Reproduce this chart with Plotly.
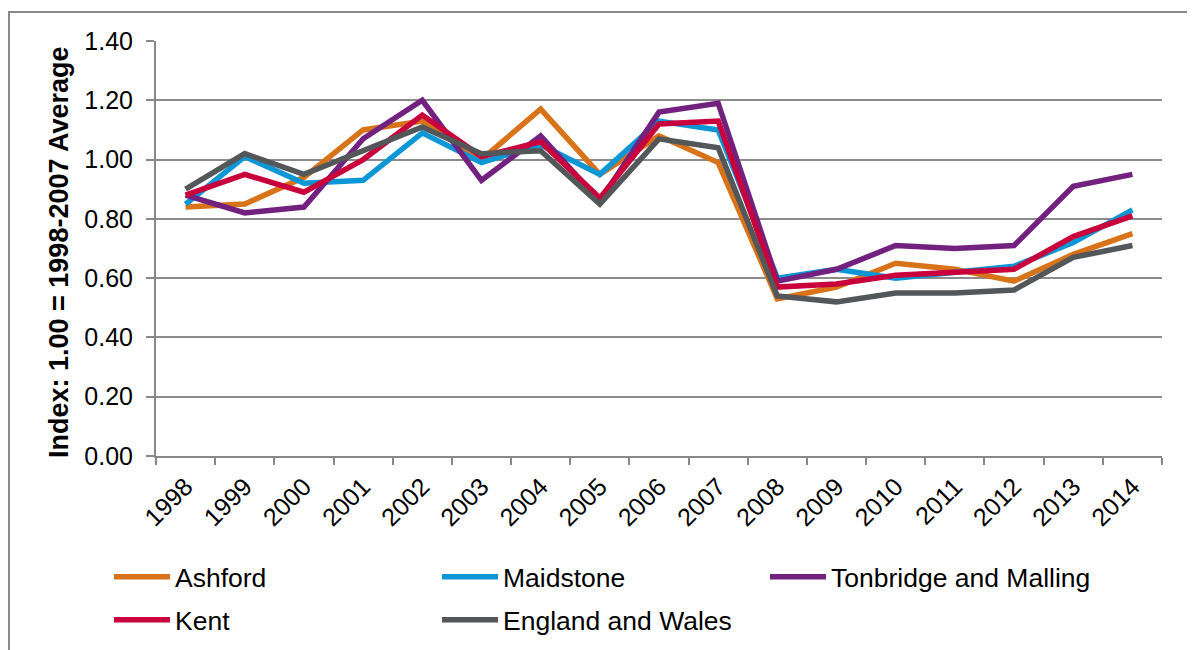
import plotly.graph_objects as go

years = [str(y) for y in range(1998, 2015)]
ashford = [0.84, 0.85, 0.94, 1.10, 1.13, 1.00, 1.17, 0.95, 1.08, 0.99, 0.53, 0.57, 0.65, 0.63, 0.59, 0.68, 0.75]
maidstone = [0.85, 1.01, 0.92, 0.93, 1.09, 0.99, 1.05, 0.95, 1.13, 1.10, 0.60, 0.63, 0.60, 0.62, 0.64, 0.72, 0.83]
tonbridge = [0.88, 0.82, 0.84, 1.07, 1.20, 0.93, 1.08, 0.86, 1.16, 1.19, 0.59, 0.63, 0.71, 0.70, 0.71, 0.91, 0.95]
kent = [0.88, 0.95, 0.89, 1.00, 1.15, 1.01, 1.06, 0.87, 1.12, 1.13, 0.57, 0.58, 0.61, 0.62, 0.63, 0.74, 0.81]
eng_wales = [0.90, 1.02, 0.95, 1.03, 1.11, 1.02, 1.03, 0.85, 1.07, 1.04, 0.54, 0.52, 0.55, 0.55, 0.56, 0.67, 0.71]

y_ticks = [0.0, 0.2, 0.4, 0.6, 0.8, 1.0, 1.2, 1.4]
y_tick_text = ["0.00", "0.20", "0.40", "0.60", "0.80", "1.00", "1.20", "1.40"]

series = [
    ("Ashford", ashford, "#D8731A", "legend"),
    ("Maidstone", maidstone, "#0C96D6", "legend"),
    ("Tonbridge and Malling", tonbridge, "#73217F", "legend"),
    ("Kent", kent, "#C8003C", "legend2"),
    ("England and Wales", eng_wales, "#53575A", "legend2"),
]

FONT = "Arial, Liberation Sans, sans-serif"
OFF = 8  # default page body margin
W, H = 1195 - OFF, 650 - OFF
# plot area in page pixels
L, R, T, B = 156, 1162, 41, 456
pw, ph = R - L, B - T

def px_x(p):
    return (p - L) / pw

def px_y(p):
    return (B - p) / ph

fig = go.Figure()
for name, vals, color, leg in series:
    fig.add_trace(go.Scatter(
        x=years, y=vals, name=name, mode="lines",
        line=dict(color=color, width=5.5),
        legend=leg,
    ))

legend_common = dict(
    orientation="h",
    font=dict(family=FONT, size=26.5, color="#000000"),
    entrywidth=257, entrywidthmode="pixels",
    itemwidth=56,
    bgcolor="rgba(0,0,0,0)",
    xanchor="left", yanchor="middle",
    tracegroupgap=0,
)

fig.update_layout(
    width=W, height=H,
    margin=dict(l=L - OFF, r=(OFF + W) - R, t=T - OFF, b=(OFF + H) - B,
                pad=0, autoexpand=False),
    paper_bgcolor="white", plot_bgcolor="white",
    showlegend=True,
    legend=dict(x=px_x(109), y=px_y(577), **legend_common),
    legend2=dict(x=px_x(109), y=px_y(620), **legend_common),
    xaxis=dict(
        type="category",
        tickmode="array", tickvals=years, ticktext=years,
        tickangle=-45,
        tickfont=dict(family=FONT, size=25, color="#000000"),
        showline=True, linecolor="#888888", linewidth=2,
        ticks="outside", ticklen=7, tickcolor="#888888", tickwidth=2,
        tickson="boundaries",
        ticklabelstandoff=4,
        showgrid=False, zeroline=False,
        range=[-0.5, 16.5],
        automargin=False,
    ),
    yaxis=dict(
        range=[0, 1.4],
        tickmode="array", tickvals=y_ticks, ticktext=y_tick_text,
        tickfont=dict(family=FONT, size=25, color="#000000"),
        showline=True, linecolor="#888888", linewidth=2,
        ticks="outside", ticklen=8, tickcolor="#888888", tickwidth=2,
        ticklabelstandoff=8,
        showgrid=True, gridcolor="#8C8C8C", gridwidth=2,
        zeroline=False,
        automargin=False,
    ),
    annotations=[dict(
        text="<b>Index: 1.00 = 1998-2007 Average</b>",
        xref="paper", yref="paper",
        x=px_x(59), y=px_y(252),
        xanchor="center", yanchor="middle",
        textangle=-90, showarrow=False,
        font=dict(family=FONT, size=27, color="#000000"),
    )],
    shapes=[dict(
        type="rect", xref="paper", yref="paper",
        x0=px_x(9), x1=px_x(1191), y0=px_y(700), y1=px_y(12),
        line=dict(color="#8A8A8A", width=2), fillcolor="rgba(0,0,0,0)",
        layer="below",
    )],
)

fig.write_html("out.html")
